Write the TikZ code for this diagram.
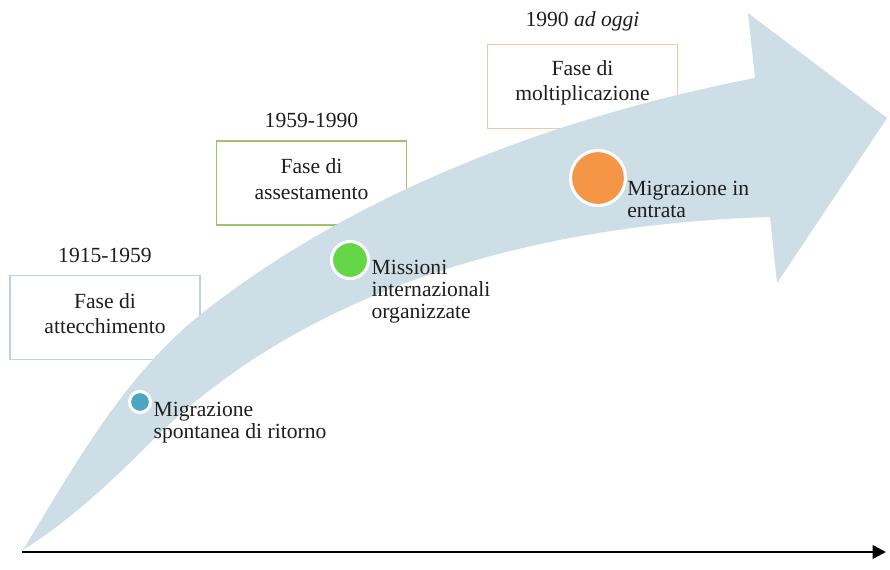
\documentclass[tikz,border=0pt]{standalone}
\usepackage{fontspec}
\setmainfont{Liberation Serif}
\usetikzlibrary{arrows.meta,positioning}

\definecolor{arrowfill}{RGB}{205,222,231}
\definecolor{boxblue}{RGB}{190,208,226}
\definecolor{boxgreen}{RGB}{160,195,110}
\definecolor{boxorange}{RGB}{245,200,165}
\definecolor{dotblue}{RGB}{75,165,195}
\definecolor{dotgreen}{RGB}{100,215,70}
\definecolor{dotorange}{RGB}{245,150,70}
\definecolor{txt}{RGB}{30,30,30}

\begin{document}
\begin{tikzpicture}[x=0.75pt, y=-0.75pt,
    phasebox/.style={draw, line width=1.1pt, minimum width=142.5pt, minimum height=63pt, inner sep=0pt},
    phasetxt/.style={align=center, text=txt, font=\fontsize{16.2}{19}\selectfont},
    yearlbl/.style={inner sep=0pt, text=txt, font=\fontsize{16.2}{19}\selectfont},
    dot/.style={circle, draw=white, line width=2.3pt, inner sep=0pt},
    dotlbl/.style={align=left, inner sep=0pt, text=txt, font=\fontsize{16.2}{16.5}\selectfont}]
    \useasboundingbox (0,0) rectangle (890,569);

    % phase boxes (behind the arrow)
    \node[phasebox, draw=boxblue] (b1) at (105,317.5) {};
    \node[phasebox, draw=boxgreen] (b2) at (311.5,183) {};
    \node[phasebox, draw=boxorange] (b3) at (582.5,86.5) {};

    % big curved arrow
    \fill[arrowfill] (23,550)
        .. controls (74,466) and (124,376) .. (200,315)
        .. controls (356,191) and (559,116) .. (755,78)
        -- (748,13) -- (887,118) -- (777,283) -- (770,217)
        .. controls (520,224.5) and (304,295) .. (160,433)
        .. controls (118,475) and (74,518) .. (23,550) -- cycle;

    % time axis
    \coordinate (axstart) at (22,552);
    \coordinate (axend) at (886,552);
    \draw[line width=2pt, -{Triangle[length=10pt,width=10pt]}] (axstart) -- (axend);

    % box texts and years
    \node[phasetxt] (t1) at ([yshift=3pt]b1.center) {Fase di\\attecchimento};
    \node[phasetxt] (t2) at ([yshift=3pt]b2.center) {Fase di\\assestamento};
    \node[phasetxt] (t3) at ([yshift=3pt]b3.center) {Fase di\\moltiplicazione};
    \node[yearlbl, above=9pt of b1] (y1) {1915-1959};
    \node[yearlbl, above=9pt of b2] (y2) {1959-1990};
    \node[yearlbl, above=9pt of b3] (y3) {1990 \textit{ad oggi}};

    % dots on the arrow
    \node[dot, fill=dotblue, minimum size=15.75pt] (d1) at (140,402) {};
    \node[dot, fill=dotgreen, minimum size=27.75pt] (d2) at (350,260) {};
    \node[dot, fill=dotorange, minimum size=41.25pt] (d3) at (598,178) {};
    \node[dotlbl, anchor=north west] (l1) at ([xshift=1pt]d1.east) {Migrazione\\spontanea di ritorno};
    \node[dotlbl, anchor=north west] (l2) at ([xshift=1pt]d2.east) {Missioni\\internazionali\\organizzate};
    \node[dotlbl, anchor=north west] (l3) at ([yshift=-2pt]d3.east) {Migrazione in\\entrata};
\end{tikzpicture}
\end{document}
